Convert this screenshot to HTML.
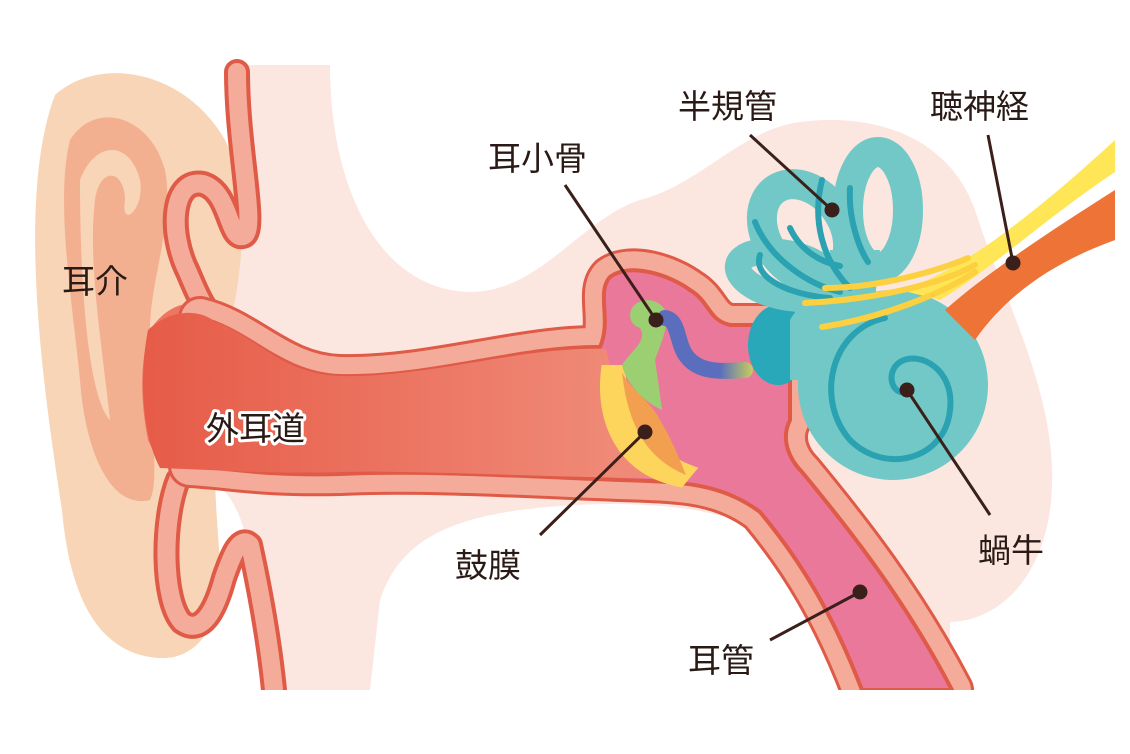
<!DOCTYPE html>
<html><head><meta charset="utf-8"><style>
html,body{margin:0;padding:0;background:#fff;width:1130px;height:754px;overflow:hidden}
text{font-family:"Liberation Sans","Noto Sans CJK JP",sans-serif;font-size:33px;fill:#2a1a16}
</style></head><body>
<svg width="1130" height="754" viewBox="0 0 1130 754" xmlns="http://www.w3.org/2000/svg">
<defs>
<linearGradient id="cg" x1="150" y1="0" x2="620" y2="0" gradientUnits="userSpaceOnUse">
<stop offset="0" stop-color="#e65c48"/><stop offset="1" stop-color="#f08a78"/></linearGradient>
<linearGradient id="ig" x1="720" y1="0" x2="760" y2="0" gradientUnits="userSpaceOnUse">
<stop offset="0" stop-color="#5a6ebd"/><stop offset="1" stop-color="#dde24a"/></linearGradient>
</defs>
<path d="M230,65 L330,65 C330,190 380,290 470,292 C540,292 580,220 640,200 C700,185 740,130 800,122 C880,112 950,140 975,210 C1000,290 1050,380 1052,470 C1055,560 1010,620 950,622 L950,690 L850,690 C820,620 800,560 760,530 C700,500 600,500 520,510 C450,520 400,540 380,600 L370,690 L270,690 L250,560 C240,480 200,470 180,470 L180,300 C220,280 230,200 230,65 Z" fill="#fbe6e0"/>
<path d="M55,95 C100,55 185,70 225,140 C255,200 240,300 220,360 C210,420 215,500 220,560 C225,620 200,660 160,658 C100,655 70,600 62,510 C45,400 15,200 55,95 Z" fill="#f8d5b6"/>
<path d="M70,140 C95,100 150,115 165,170 C175,220 150,280 150,330 C150,420 160,480 150,500 C110,510 85,450 80,380 C72,300 55,200 70,140 Z" fill="#f3b091"/>
<path d="M80,180 C95,140 130,140 140,180 C145,210 120,230 125,200 C125,170 100,165 95,200 C88,260 100,330 110,420 C90,400 80,300 80,180 Z" fill="#f8d5b6"/>
<g fill="none" stroke-linecap="round" stroke-linejoin="round">
<path d="M237,72 C237,150 258,232 243,236 C228,240 230,192 203,184 C172,178 168,232 188,272 C198,296 205,312 218,322" stroke="#df5a47" stroke-width="26"/>
<path d="M237,72 C237,150 258,232 243,236 C228,240 230,192 203,184 C172,178 168,232 188,272 C198,296 205,312 218,322" stroke="#f4ab9a" stroke-width="18"/>
<path d="M178,480 C162,520 162,600 182,622 C205,638 218,600 224,578 C232,555 240,535 250,545 C262,600 270,650 274,690" stroke="#df5a47" stroke-width="26"/>
<path d="M178,480 C162,520 162,600 182,622 C205,638 218,600 224,578 C232,555 240,535 250,545 C262,600 270,650 274,690" stroke="#f4ab9a" stroke-width="18"/>
</g>
<path d="M150,330 C170,300 200,295 215,320 L215,470 C190,480 160,470 148,440 C140,400 140,360 150,330 Z" fill="#ec7660"/>
<path d="M200,318 C250,330 280,374 340,376 C430,378 520,346 600,347 C612,320 596,292 610,277 C630,262 670,275 690,290 C710,302 708,320 730,325 L790,325 L790,420 C780,440 790,460 802,472 C850,530 905,600 952,690 L862,690 C832,612 800,560 760,512 C720,482 680,482 620,480 C540,477 420,470 340,474 C260,476 230,468 190,466 Z" fill="none" stroke="#df5a47" stroke-width="44" stroke-linejoin="round"/>
<path d="M200,318 C250,330 280,374 340,376 C430,378 520,346 600,347 C612,320 596,292 610,277 C630,262 670,275 690,290 C710,302 708,320 730,325 L790,325 L790,420 C780,440 790,460 802,472 C850,530 905,600 952,690 L862,690 C832,612 800,560 760,512 C720,482 680,482 620,480 C540,477 420,470 340,474 C260,476 230,468 190,466 Z" fill="#e9789b" stroke="#f4ab9a" stroke-width="38" stroke-linejoin="round"/>
<path d="M200,318 C250,330 280,374 340,376 C430,378 520,346 600,347 C612,320 596,292 610,277 C630,262 670,275 690,290 C710,302 708,320 730,325 L790,325 L790,420 C780,440 790,460 802,472 C850,530 905,600 952,690 L862,690 C832,612 800,560 760,512 C720,482 680,482 620,480 C540,477 420,470 340,474 C260,476 230,468 190,466 Z" fill="#e9789b" stroke="#df5a47" stroke-width="4" stroke-linejoin="round"/>
<rect x="150" y="690" width="900" height="64" fill="#fff"/>
<path d="M148,330 C175,305 205,312 215,322 C255,335 280,374 340,376 C430,378 520,346 606,349 L610,365 C600,400 610,440 660,478 C560,478 420,470 340,472 C260,474 220,470 160,468 C140,430 140,370 148,330 Z" fill="url(#cg)"/>
<path d="M606,370 C600,420 620,470 680,482 L690,470 C650,455 625,420 620,370 Z" fill="#fdd55c" stroke="#fdd55c" stroke-width="10"/>
<path d="M622,372 C630,390 650,400 660,420 C672,440 680,460 686,475 C650,460 628,430 622,372 Z" fill="#f2a050"/>
<path d="M632,308 C640,296 660,298 666,312 C668,330 660,345 655,360 C658,380 660,395 662,410 C640,400 625,380 622,365 C632,350 648,340 640,328 C630,325 628,315 632,308 Z" fill="#9ccf72"/>
<path d="M665,318 C680,320 676,345 688,358 C700,372 720,372 745,370" fill="none" stroke="url(#ig)" stroke-width="16" stroke-linecap="round"/>
<ellipse cx="778" cy="345" rx="30" ry="40" fill="#28a8b8"/>
<!-- semicircular canals as loops -->
<g fill="none" stroke="#72c8c6">
<ellipse cx="878" cy="210" rx="30" ry="58" stroke-width="30"/>
<ellipse cx="805" cy="232" rx="38" ry="52" transform="rotate(-35 805 232)" stroke-width="30"/>
<ellipse cx="785" cy="275" rx="48" ry="22" transform="rotate(12 785 275)" stroke-width="26"/>
</g>
<g fill="#72c8c6">
<path d="M830,250 L880,250 L875,300 L830,300 Z"/>
<circle cx="893" cy="385" r="95"/>
<path d="M790,320 C800,300 830,290 850,300 L840,380 L790,380 Z"/>
</g>
<g fill="none" stroke="#2aa2b2" stroke-width="6" stroke-linecap="round">
<path d="M822,180 C812,220 822,260 850,288"/>
<path d="M850,188 C848,220 860,250 868,262"/>
<path d="M755,222 C770,260 810,285 840,292"/>
<path d="M760,255 C752,278 790,295 830,298"/>
<path d="M790,228 C800,250 820,262 840,266"/>
<path d="M885,318 C830,330 815,400 850,440 C885,475 945,460 950,410 C955,370 920,350 900,362 C885,372 892,395 905,392"/>
</g>
<path d="M945,310 C990,270 1060,225 1115,190 L1115,240 C1060,260 1010,290 975,340 Z" fill="#ee7336"/>
<path d="M900,290 C960,275 1050,200 1115,140 L1115,172 C1050,215 990,270 940,300 Z" fill="#ffe656"/>
<g fill="none" stroke="#fdd040" stroke-width="6" stroke-linecap="round">
<path d="M825,288 C880,288 940,270 968,258"/>
<path d="M805,303 C870,300 940,285 975,265"/>
<path d="M822,327 C880,318 940,295 975,272"/>
</g>
<g stroke="#3a1f1a" stroke-width="3" fill="#3a1f1a">
<line x1="565" y1="185" x2="656" y2="320"/><circle cx="656" cy="320" r="6"/>
<line x1="750" y1="135" x2="832" y2="210"/><circle cx="832" cy="210" r="6"/>
<line x1="988" y1="135" x2="1013" y2="263"/><circle cx="1013" cy="263" r="6"/>
<line x1="540" y1="535" x2="645" y2="432"/><circle cx="645" cy="432" r="6"/>
<line x1="990" y1="515" x2="907" y2="390"/><circle cx="907" cy="390" r="6"/>
<line x1="770" y1="640" x2="860" y2="592"/><circle cx="860" cy="592" r="6"/>
</g>
<text x="62" y="293">耳介</text>
<text x="206" y="440" style="stroke:#fff;stroke-width:6px;paint-order:stroke;stroke-linejoin:round">外耳道</text>
<text x="488" y="170">耳小骨</text>
<text x="678" y="118">半規管</text>
<text x="930" y="118">聴神経</text>
<text x="455" y="577">鼓膜</text>
<text x="978" y="562">蝸牛</text>
<text x="688" y="672">耳管</text>
</svg>
</body></html>
